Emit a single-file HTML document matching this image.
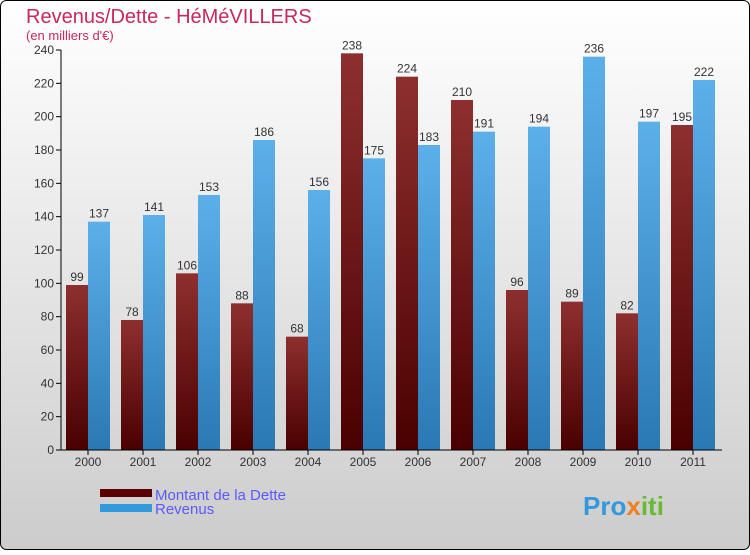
<!DOCTYPE html>
<html><head><meta charset="utf-8"><style>
body{margin:0;width:750px;height:550px;overflow:hidden;font-family:"Liberation Sans",sans-serif}
</style></head><body>
<svg width="750" height="550" xmlns="http://www.w3.org/2000/svg">
<defs>
<linearGradient id="bg" x1="0" y1="0" x2="0" y2="1"><stop offset="0" stop-color="#ffffff"/><stop offset="1" stop-color="#cccccc"/></linearGradient>
<linearGradient id="gd" x1="0" y1="0" x2="0" y2="1"><stop offset="0" stop-color="#8e2f2f"/><stop offset="1" stop-color="#4a0000"/></linearGradient>
<linearGradient id="gr" x1="0" y1="0" x2="0" y2="1"><stop offset="0" stop-color="#5cb0ea"/><stop offset="1" stop-color="#2a78b4"/></linearGradient>
</defs>
<rect x="0.5" y="0.5" width="749" height="549" rx="6" fill="url(#bg)" stroke="#000"/>
<text x="26" y="23" font-size="20" fill="#c8285a">Revenus/Dette - HéMéVILLERS</text>
<text x="26" y="40" font-size="13" fill="#c8285a">(en milliers d'€)</text>
<g id="plot"></g>
<rect x="100" y="489" width="52" height="8" fill="#5a0000"/>
<text x="155" y="500" font-size="15" fill="#5a5aff">Montant de la Dette</text>
<rect x="100" y="504" width="52" height="8" fill="#3399dd"/>
<text x="155" y="514" font-size="15" fill="#5a5aff">Revenus</text>
<text x="583" y="515" font-size="26" font-weight="bold" fill="#3399dd">Pro<tspan fill="#f08020">x</tspan><tspan fill="#66bb33">iti</tspan></text>
</svg>
<script>
const years=["2000","2001","2002","2003","2004","2005","2006","2007","2008","2009","2010","2011"];
const dette=[99,78,106,88,68,238,224,210,96,89,82,195];
const revenus=[137,141,153,186,156,175,183,191,194,236,197,222];
const yTicks=[0,20,40,60,80,100,120,140,160,180,200,220,240];
const NS="http://www.w3.org/2000/svg";
const g=document.getElementById('plot');
const y0=450,yTop=50,yMax=240,xL=61,step=55,x0=88,bw=22;
const Y=v=>y0-(v/yMax)*(y0-yTop);
const X=i=>x0+i*step;
function mk(t,a,txt){const e=document.createElementNS(NS,t);for(const k in a)e.setAttribute(k,a[k]);if(txt!=null)e.textContent=txt;g.appendChild(e);return e;}
yTicks.forEach(t=>{
  const l=mk('line',{x1:xL-5,x2:xL,y1:Y(t),y2:Y(t),stroke:'#000'});
  
  
  const tx=mk('text',{x:xL-7,y:Y(t)+4,'font-size':12,'text-anchor':'end',fill:'#333'},t);
  
  
});
years.forEach((yr,i)=>{
  const c=X(i);
  const b1=mk('rect',{x:c-bw,y:Y(dette[i]),width:bw,height:y0-Y(dette[i]),fill:'url(#gd)'});
  
  
  const b2=mk('rect',{x:c,y:Y(revenus[i]),width:bw,height:y0-Y(revenus[i]),fill:'url(#gr)'});
  
  
  const l1=mk('text',{x:c-bw/2,y:Y(dette[i])-4,'font-size':12,'text-anchor':'middle',fill:'#333'},dette[i]);
  
  
  const l2=mk('text',{x:c+bw/2,y:Y(revenus[i])-4,'font-size':12,'text-anchor':'middle',fill:'#333'},revenus[i]);
  
  
  const tk=mk('line',{x1:c,x2:c,y1:y0,y2:y0+5,stroke:'#000'});
  
  
  const xl=mk('text',{x:c,y:y0+16,'font-size':12,'text-anchor':'middle',fill:'#333'},yr);
  
  
});
const ax=mk('line',{x1:xL,x2:xL,y1:yTop,y2:y0,stroke:'#000'});


const bx=mk('line',{x1:xL,x2:722,y1:y0,y2:y0,stroke:'#000'});


</script>
</body></html>
